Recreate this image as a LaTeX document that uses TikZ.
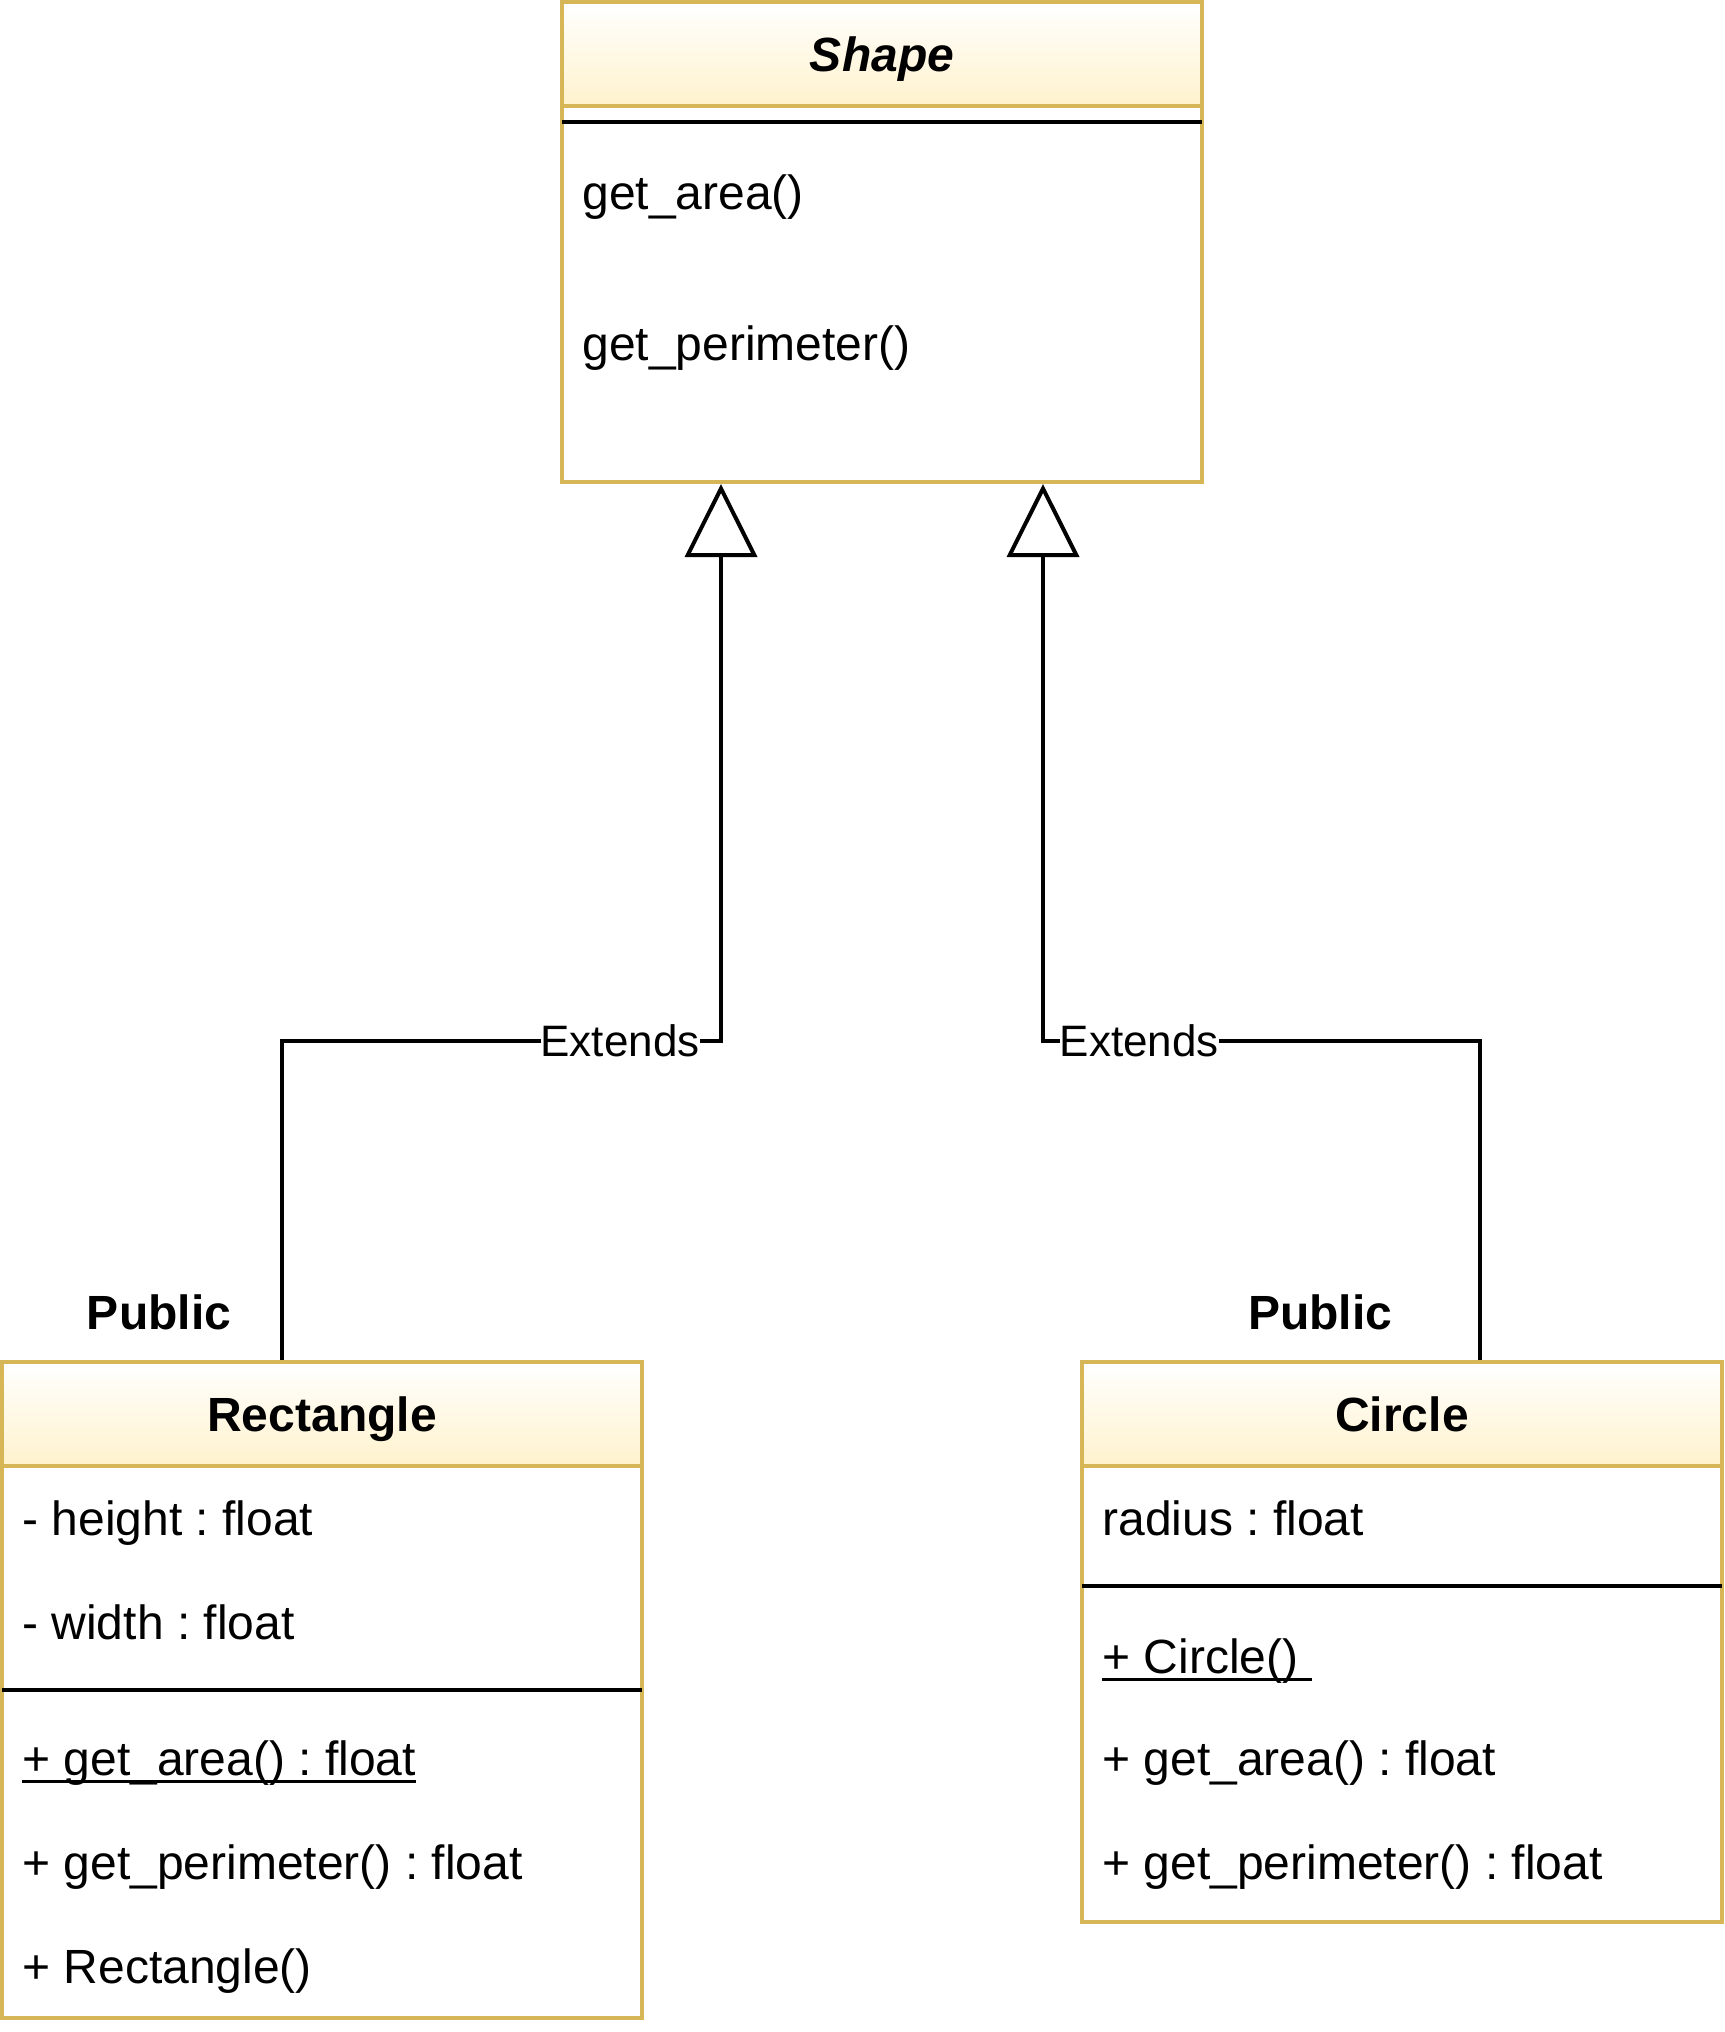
\documentclass[tikz,border=0pt]{standalone}
\usepackage{fontspec}
\setmainfont{Liberation Sans}
\usetikzlibrary{arrows.meta, calc, positioning}

\definecolor{classborder}{HTML}{D6B656}
\definecolor{classfill}{HTML}{FFF2CC}
\newcommand{\umlfont}{\fontsize{24pt}{29pt}\selectfont\frenchspacing}
\newcommand{\edgefont}{\fontsize{22pt}{26pt}\selectfont}

\begin{document}
\begin{tikzpicture}[
  x = 0.5pt, y = -0.5pt,
  classbox/.style = {draw = classborder, fill = white, line width = 2pt, minimum width = 320pt},
  classhead/.style = {classbox, top color = white, bottom color = classfill, minimum height = 52pt,
                      text height = 20pt, text depth = 2.5pt, font = \umlfont\bfseries},
  member/.style = {anchor = west, inner sep = 0pt, text height = 20pt, text depth = 2.5pt, font = \umlfont},
  sepline/.style = {line width = 2pt},
  underl/.style = {line width = 1.75pt},
  extends/.style = {line width = 2pt, -{Triangle[open, length = 36.5pt, width = 36pt]}},
  elabel/.style = {fill = white, inner sep = 0pt, font = \edgefont},
  visib/.style = {inner sep = 0pt, text height = 20pt, text depth = 2.5pt, font = \umlfont\bfseries},
  ]
  \useasboundingbox (0,0) rectangle (1724,2032);

  % Shape (abstract)
  \node[classbox, minimum height = 240pt] (shape) at (882,242) {};
  \node[classhead, font = \umlfont\bfseries\itshape] (shapehead) at (882,54) {Shape};
  \draw[sepline] (562,122) -- (1202,122);
  \foreach \y/\txt [count=\i] in {192/get\_area(), 343/get\_perimeter()}
    \node[member] (shapeop\i) at (582,\y) {\txt};

  % Rectangle
  \node[classbox, minimum height = 328pt] (rect) at (322,1690) {};
  \node[classhead] (recthead) at (322,1414) {Rectangle};
  \foreach \y/\txt [count=\i] in {1518/- height : float, 1622/- width : float}
    \node[member] (rectattr\i) at (22,\y) {\txt};
  \draw[sepline] (2,1690) -- (642,1690);
  \foreach \y/\txt [count=\i] in {1758/+ get\_area() : float, 1862/+ get\_perimeter() : float, 1966/+ Rectangle()}
    \node[member] (rectop\i) at (22,\y) {\txt};
  \draw[underl] ([yshift=-3pt]rectop1.base west) -- ([yshift=-3pt]rectop1.base east);

  % Circle
  \node[classbox, minimum height = 280pt] (circ) at (1402,1642) {};
  \node[classhead] (circhead) at (1402,1414) {Circle};
  \node[member] (circattr1) at (1102,1518) {radius : float};
  \draw[sepline] (1082,1586) -- (1722,1586);
  \foreach \y/\txt [count=\i] in {1656/+ Circle()\hbox to 0.278em{}, 1758/+ get\_area() : float, 1862/+ get\_perimeter() : float}
    \node[member] (circop\i) at (1102,\y) {\txt};
  \draw[underl] ([yshift=-3pt]circop1.base west) -- ([yshift=-3pt]circop1.base east);

  % visibility labels
  \node[visib] (rectvis) at (159,1312) {Public};
  \node[visib] (circvis) at (1320,1312) {Public};

  % inheritance
  \coordinate (tipL) at ($(shape.south west)!0.25!(shape.south east)$);
  \coordinate (tipR) at ($(shape.south west)!0.75!(shape.south east)$);
  \coordinate (bendL) at (282,1041);
  \coordinate (bendR) at (1480,1041);
  \draw[extends] (rect.north -| bendL) -- (bendL)
    -- node[elabel, pos = 0.77] (extL) {Extends} (bendL -| tipL) -- (tipL);
  \draw[extends] (circ.north -| bendR) -- (bendR)
    -- node[elabel, pos = 0.78] (extR) {Extends} (bendR -| tipR) -- (tipR);
\end{tikzpicture}
\end{document}
